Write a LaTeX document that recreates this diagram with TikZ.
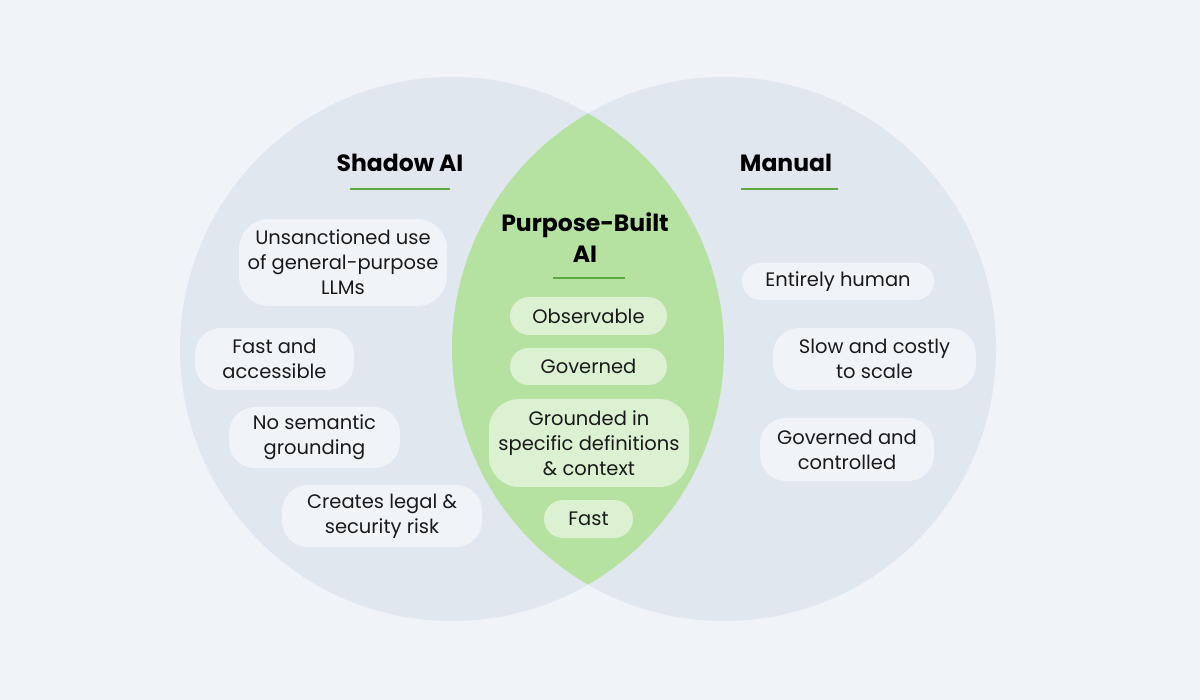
\documentclass[tikz,border=0pt]{standalone}
\usepackage{fontspec}
\setmainfont{Poppins}
\definecolor{bg}{HTML}{F0F4F9}
\definecolor{circ}{HTML}{E1E7EF}
\definecolor{lens}{HTML}{B6E2A1}
\definecolor{lenspill}{HTML}{DCF0D2}
\definecolor{graypill}{HTML}{F0F4F9}
\definecolor{uline}{HTML}{5DAA40}
\definecolor{txt}{HTML}{1A1A1A}
\begin{document}
\begin{tikzpicture}[x=1pt,y=-1pt,
  pill/.style={align=center, inner sep=0pt, text=txt,
    font=\fontsize{19.5}{25}\selectfont},
  gpill/.style={pill, fill=graypill},
  lpill/.style={pill, fill=lenspill},
  title/.style={align=center, inner sep=0pt, text=black,
    font=\fontsize{23.5}{31}\selectfont\bfseries},
  uline/.style={draw=uline, line width=2pt}
]
\useasboundingbox (0,0) rectangle (1200,700);
\fill[bg] (0,0) rectangle (1200,700);
\coordinate (L) at (452,349);
\coordinate (R) at (724,349);
\fill[circ] (L) circle (272);
\fill[circ] (R) circle (272);
\begin{scope}
  \clip (L) circle (272);
  \fill[lens] (R) circle (272);
\end{scope}

% titles
\node[title] (shadow) at (400,163) {Shadow AI};
\coordinate (shA) at (350,189); \coordinate (shB) at (450,189);
\draw[uline] (shA) -- (shB);
\node[title] (manual) at (786,163) {Manual};
\coordinate (maA) at (741,189); \coordinate (maB) at (838,189);
\draw[uline] (maA) -- (maB);
\node[title] (pb) at (585,238) {Purpose-Built\\AI};
\coordinate (pbA) at (553,278); \coordinate (pbB) at (625,278);
\draw[uline] (pbA) -- (pbB);

% left pills
\node[gpill, minimum width=208, minimum height=87, rounded corners=30] (l1) at (343,262.5) {Unsanctioned use\\of general-purpose\\LLMs};
\node[gpill, minimum width=159, minimum height=62, rounded corners=26] (l2) at (274.5,359) {Fast and\\accessible};
\node[gpill, minimum width=171, minimum height=61, rounded corners=26] (l3) at (314.5,437.5) {No semantic\\grounding};
\node[gpill, minimum width=200, minimum height=62, rounded corners=26] (l4) at (382,516) {Creates legal \&\\security risk};

% lens pills
\node[lpill, minimum width=157, minimum height=38, rounded corners=19] (c1) at (588.5,316) {Observable};
\node[lpill, minimum width=157, minimum height=37, rounded corners=18.5] (c2) at (588.5,366.5) {Governed};
\node[lpill, minimum width=200, minimum height=88, rounded corners=30] (c3) at (589,443) {Grounded in\\specific definitions\\\& context};
\node[lpill, minimum width=89, minimum height=38, rounded corners=19] (c4) at (588.5,519) {Fast};

% right pills
\node[gpill, minimum width=192, minimum height=37, rounded corners=18.5] (r1) at (838,281.5) {Entirely human};
\node[gpill, minimum width=203, minimum height=62, rounded corners=26] (r2) at (874.5,359) {Slow and costly\\to scale};
\node[gpill, minimum width=174, minimum height=63, rounded corners=26] (r3) at (847,449.5) {Governed and\\controlled};
\end{tikzpicture}
\end{document}
